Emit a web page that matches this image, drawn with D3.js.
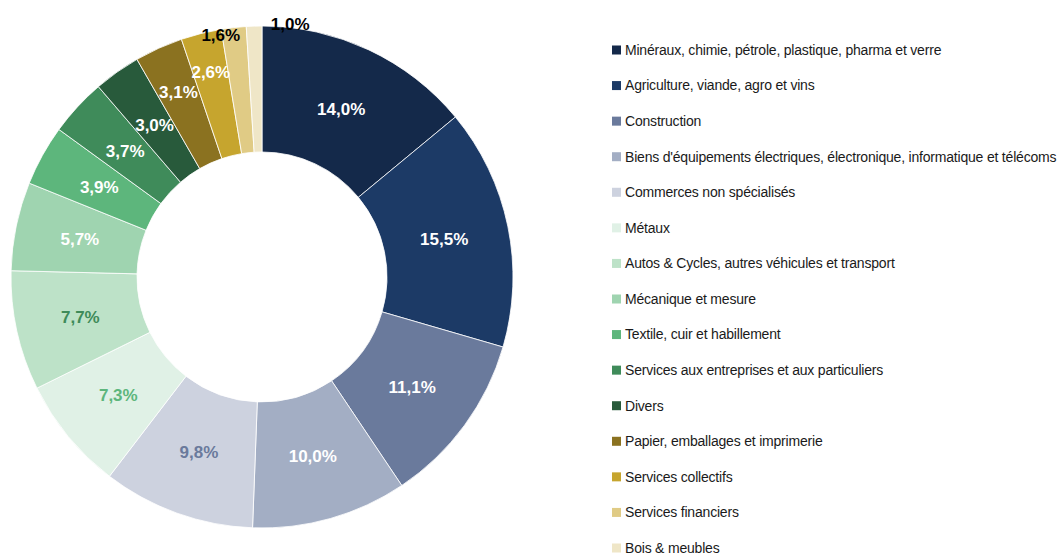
<!DOCTYPE html>
<html>
<head>
<meta charset="utf-8">
<script src="https://cdn.jsdelivr.net/npm/d3@7"></script>
<style>
  body { margin: 0; background: #fff; }
  svg { display: block; }
  .legend text { font-family: "Liberation Sans", Arial, sans-serif; font-size: 14px; fill: #1a1a1a; letter-spacing: -0.2px; }
  .labels text { font-family: "Liberation Sans", Arial, sans-serif; font-size: 17px; font-weight: bold; }
</style>
</head>
<body>
<svg width="1059" height="557"></svg>
<script>
// Secteurs, dans l'ordre de la légende
var secteurs = [
  "Minéraux, chimie, pétrole, plastique, pharma et verre",
  "Agriculture, viande, agro et vins",
  "Construction",
  "Biens d'équipements électriques, électronique, informatique et télécoms",
  "Commerces non spécialisés",
  "Métaux",
  "Autos & Cycles, autres véhicules et transport",
  "Mécanique et mesure",
  "Textile, cuir et habillement",
  "Services aux entreprises et aux particuliers",
  "Divers",
  "Papier, emballages et imprimerie",
  "Services collectifs",
  "Services financiers",
  "Bois & meubles"
];

// Parts en %
var parts = [14.0, 15.5, 11.1, 10.0, 9.8, 7.3, 7.7, 5.7, 3.9, 3.7, 3.0, 3.1, 2.6, 1.6, 1.0];

var couleurs = [
  "#14294a", "#1c3a66", "#6a7a9c", "#a3aec4", "#cdd2df",
  "#e0f1e6", "#bde2c8", "#9fd4b0", "#5db67c", "#3f8b5a",
  "#285a3b", "#8b7220", "#c6a52e", "#e0cb85", "#efe6c7"
];

// Couleur du texte des étiquettes
var couleursTexte = [
  "#fff", "#fff", "#fff", "#fff", "#6a7a9c",
  "#5db67c", "#3f8b5a", "#fff", "#fff", "#fff",
  "#fff", "#fff", "#fff", "#000", "#000"
];

var svg = d3.select("svg");
var cx = 262, cy = 277;
var rInt = 125, rExt = 251;

var donnees = secteurs.map(function(s, i) {
  return { nom: s, valeur: parts[i], couleur: couleurs[i], texte: couleursTexte[i], i: i };
});

var pie = d3.pie().sort(null).value(function(d) { return d.valeur; });
var arc = d3.arc().innerRadius(rInt).outerRadius(rExt);

// rayon des étiquettes : poussées vers l'extérieur pour les petites parts
function rayonLabel(i) {
  if (i === 11) return 203;
  if (i === 12) return 211;
  if (i >= 13) return 250;
  return 186;
}

var g = svg.append("g").attr("transform", "translate(" + cx + "," + cy + ")");
var arcs = pie(donnees);

g.selectAll("path")
  .data(arcs)
  .enter().append("path")
  .attr("d", arc)
  .attr("fill", function(d) { return d.data.couleur; })
  .attr("stroke", "#fff")
  .attr("stroke-width", 0.8);

var fmt = function(v) { return v.toFixed(1).replace(".", ",") + "%"; };

g.append("g").attr("class", "labels")
  .selectAll("text")
  .data(arcs)
  .enter().append("text")
  .attr("transform", function(d) {
    var r = rayonLabel(d.data.i);
    var c = d3.arc().innerRadius(r).outerRadius(r).centroid(d);
    if (d.data.i === 13) { c[0] -= 13; c[1] += 6; }
    if (d.data.i === 14) { c[0] += 36; c[1] -= 3; }
    return "translate(" + c + ")";
  })
  .attr("text-anchor", "middle")
  .attr("dy", "0.36em")
  .attr("fill", function(d) { return d.data.texte; })
  .text(function(d) { return fmt(d.data.valeur); });

// Légende
var y = d3.scalePoint().domain(d3.range(secteurs.length)).range([50, 548]);

var leg = svg.append("g").attr("class", "legend")
  .selectAll("g")
  .data(donnees)
  .enter().append("g")
  .attr("transform", function(d) { return "translate(612," + y(d.i) + ")"; });

leg.append("rect")
  .attr("x", 0).attr("y", -4.5)
  .attr("width", 9).attr("height", 9)
  .attr("fill", function(d) { return d.couleur; });

leg.append("text")
  .attr("x", 13)
  .attr("dy", "0.35em")
  .text(function(d) { return d.nom; });
</script>
</body>
</html>
